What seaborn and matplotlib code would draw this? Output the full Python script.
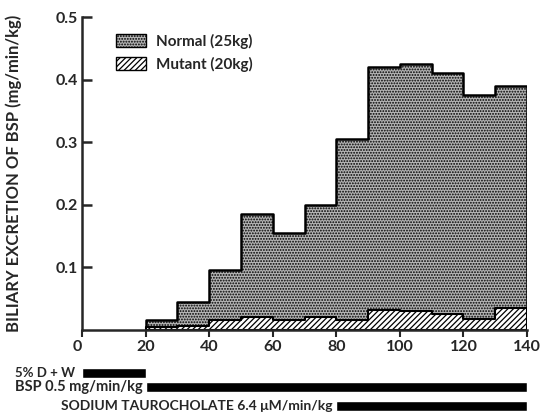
import numpy as np
import pandas as pd
import seaborn as sns
import matplotlib.pyplot as plt
from matplotlib.patches import Patch

# -------------------------------------------------
# Data (10-min collection periods, start time in min)
# -------------------------------------------------
period_start = [20, 30, 40, 50, 60, 70, 80, 90, 100, 110, 120, 130]
normal_bsp = [0.015, 0.044, 0.095, 0.185, 0.155, 0.200, 0.305, 0.420, 0.425, 0.410, 0.375, 0.390]
mutant_bsp = [0.005, 0.006, 0.015, 0.020, 0.015, 0.021, 0.015, 0.032, 0.030, 0.025, 0.018, 0.035]

infusion_labels = ["5% D + W", "BSP 0.5 mg/min/kg", "SODIUM TAUROCHOLATE 6.4 \u03bcM/min/kg"]
infusion_start = [0, 20, 80]
infusion_end = [20, 140, 140]

x_ticks = [0, 20, 40, 60, 80, 100, 120, 140]
y_ticks = [0.1, 0.2, 0.3, 0.4, 0.5]

df = pd.DataFrame({
    "mid": np.array(period_start) + 5.0,
    "normal": normal_bsp,
    "mutant": mutant_bsp,
})

# -------------------------------------------------
# Style
# -------------------------------------------------
sns.set_style("ticks")
plt.rcParams["font.family"] = ["Lato", "DejaVu Sans"]
plt.rcParams["font.weight"] = "bold"
plt.rcParams["axes.labelweight"] = "bold"
plt.rcParams["hatch.color"] = "black"
plt.rcParams["hatch.linewidth"] = 0.9

fig = plt.figure(figsize=(5.4, 4.17), dpi=100)
ax = fig.add_axes([0.152, 0.209, 0.824, 0.75])

sns.histplot(data=df, x="mid", weights="normal", binwidth=10, binrange=(20, 140),
             element="step", fill=True, color="#b4b4b4", alpha=1, ax=ax)
sns.histplot(data=df, x="mid", weights="mutant", binwidth=10, binrange=(20, 140),
             element="step", fill=True, color="white", alpha=1, ax=ax)
ax.collections[0].set_hatch("......")
ax.collections[1].set_hatch("//////")
for coll, lw in zip(ax.collections[:2], [1.8, 1.5]):
    coll.set_edgecolor("black")
    coll.set_linewidth(lw)

ax.set_xlim(0, 140)
ax.set_ylim(0, 0.5)
ax.set_xticks(x_ticks)
ax.set_xticklabels([str(t) for t in x_ticks])
ax.get_xticklabels()[0].set_horizontalalignment("right")
ax.set_yticks(y_ticks)
ax.set_yticklabels([f"{t:.1f}" for t in y_ticks])
ax.tick_params(axis="y", direction="in", length=7, width=1.8, labelsize=11.5, pad=3)
ax.tick_params(axis="x", direction="out", length=5, width=1.5, labelsize=11.5, pad=2)
ax.set_xlabel("")
ax.set_ylabel("BILIARY EXCRETION OF BSP (mg/min/kg)", fontsize=12, labelpad=24)
sns.despine(ax=ax)
for s in ["left", "bottom"]:
    ax.spines[s].set_linewidth(1.8)

handles = [Patch(facecolor="#b4b4b4", edgecolor="black", hatch="......", label="Normal (25kg)"),
           Patch(facecolor="white", edgecolor="black", hatch="//////", label="Mutant (20kg)")]
ax.legend(handles=handles, loc="upper left", bbox_to_anchor=(0.045, 0.99), frameon=False,
          fontsize=11, handlelength=2.0, handleheight=0.9, handletextpad=0.6, labelspacing=0.5)

# -------------------------------------------------
# Infusion bars below the axis
# -------------------------------------------------
ax2 = fig.add_axes([0.152, 0.0, 0.824, 0.137])
row_y = [0, 1, 2.3]
ax2.barh(row_y, np.array(infusion_end) - np.array(infusion_start), left=infusion_start,
         height=0.7, color="black")
for i, (y, lab, x0) in enumerate(zip(row_y, infusion_labels, infusion_start)):
    if i < 2:
        ax2.text(-21, y, lab, ha="left", va="center", fontsize=[9.5, 10.5][i], fontweight="bold")
    else:
        ax2.text(x0 - 1.2, y, lab, ha="right", va="center", fontsize=10, fontweight="bold")
ax2.set_xlim(0, 140)
ax2.set_ylim(3.1, -0.9)
ax2.axis("off")

fig.savefig("out.png", dpi=100)
